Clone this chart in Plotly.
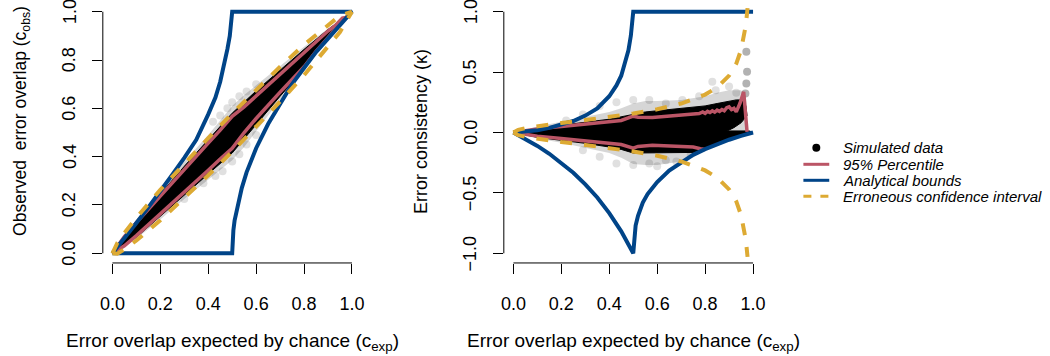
import plotly.graph_objects as go

# ---------------- data ----------------
BLUE, RED, GOLD = "#004488", "#BB5566", "#DDAA33"

# ---- Left panel: c_exp (x) vs c_obs (y) ----
L_bound_x = [0, 0.05, 0.1, 0.15, 0.2, 0.25, 0.3, 0.35, 0.4, 0.43, 0.45, 0.47, 0.48, 0.49, 0.497, 0.5, 1.0,
             0.95, 0.9, 0.85, 0.8, 0.75, 0.7, 0.65, 0.6, 0.56, 0.54, 0.52, 0.51, 0.505, 0.5, 0]
L_bound_y = [0, 0.06, 0.125, 0.19, 0.255, 0.325, 0.395, 0.47, 0.575, 0.645, 0.71, 0.79, 0.845, 0.9, 0.95, 1.0, 1.0,
             0.945, 0.89, 0.833, 0.767, 0.70, 0.618, 0.535, 0.435, 0.335, 0.27, 0.19, 0.135, 0.095, 0, 0]

L_red_up_x = [0, 0.05, 0.1, 0.2, 0.3, 0.4, 0.45, 0.5, 0.55, 0.6, 0.7, 0.8, 0.85, 0.9, 0.93, 0.96, 0.975, 1.0]
L_red_up_y = [0, 0.069, 0.127, 0.238, 0.348, 0.456, 0.51, 0.567, 0.606, 0.651, 0.742, 0.831, 0.877, 0.92, 0.942, 0.973, 0.976, 1.0]
L_red_lo_x = [0, 0.05, 0.1, 0.2, 0.3, 0.4, 0.45, 0.5, 0.55, 0.6, 0.7, 0.75, 0.8, 0.85, 0.9, 0.95, 1.0]
L_red_lo_y = [0, 0.031, 0.073, 0.162, 0.252, 0.344, 0.39, 0.435, 0.50, 0.558, 0.667, 0.72, 0.772, 0.836, 0.894, 0.949, 1.0]

L_gold_x = [0, 0.02, 0.05, 0.1, 0.2, 0.3, 0.4, 0.5, 0.6, 0.7, 0.8, 0.9, 0.95, 1.0]
L_gold_up = [0, 0.042, 0.084, 0.147, 0.263, 0.372, 0.477, 0.579, 0.677, 0.772, 0.863, 0.947, 0.984, 1.0]
L_gold_lo = [0, -0.002, 0.016, 0.053, 0.137, 0.228, 0.323, 0.421, 0.523, 0.628, 0.737, 0.853, 0.916, 1.0]

L_core_x = [0, 0.1, 0.2, 0.3, 0.4, 0.5, 0.6, 0.7, 0.8, 0.9, 0.95, 1.0,
            0.95, 0.9, 0.8, 0.75, 0.7, 0.6, 0.5, 0.4, 0.3, 0.2, 0.1, 0]
L_core_y = [0, 0.13, 0.245, 0.36, 0.47, 0.58, 0.672, 0.76, 0.844, 0.926, 0.963, 1.0,
            0.948, 0.894, 0.772, 0.707, 0.65, 0.532, 0.415, 0.328, 0.24, 0.15, 0.066, 0]

L_halo_x = [0, 0.1, 0.2, 0.3, 0.4, 0.45, 0.5, 0.55, 0.6, 0.7, 0.8, 0.9, 1.0,
            0.9, 0.8, 0.75, 0.7, 0.6, 0.55, 0.5, 0.45, 0.4, 0.3, 0.2, 0.1, 0]
L_halo_y = [0, 0.14, 0.262, 0.38, 0.49, 0.55, 0.61, 0.655, 0.695, 0.775, 0.855, 0.93, 1.0,
            0.894, 0.772, 0.7, 0.635, 0.505, 0.44, 0.385, 0.345, 0.305, 0.225, 0.14, 0.06, 0]

L_pts_x = [0.42, 0.45, 0.48, 0.5, 0.53, 0.56, 0.6, 0.5, 0.53, 0.46, 0.43, 0.56, 0.6, 0.3, 0.38]
L_pts_y = [0.545, 0.57, 0.6, 0.625, 0.65, 0.67, 0.7, 0.38, 0.41, 0.34, 0.32, 0.45, 0.49, 0.225, 0.29]

# ---- Right panel: c_exp (x) vs kappa (y) ----
R_bup_x = [0, 0.05, 0.1, 0.15, 0.2, 0.25, 0.3, 0.35, 0.4, 0.43, 0.45, 0.47, 0.48, 0.49, 0.497, 0.5, 1.0]
R_bup_y = [0, 0.005, 0.018, 0.038, 0.065, 0.095, 0.14, 0.2, 0.3, 0.39, 0.47, 0.6, 0.68, 0.8, 0.92, 1.0, 1.0]
R_blo_x = [0, 0.05, 0.1, 0.15, 0.2, 0.25, 0.3, 0.35, 0.4, 0.45, 0.5, 0.505, 0.51, 0.52, 0.54, 0.56, 0.6,
           0.65, 0.7, 0.75, 0.8, 0.85, 0.9, 0.95, 1.0]
R_blo_y = [0, -0.053, -0.111, -0.176, -0.25, -0.333, -0.429, -0.538, -0.667, -0.818, -1.0, -0.84, -0.77,
           -0.69, -0.58, -0.51, -0.41, -0.315, -0.245, -0.185, -0.138, -0.095, -0.06, -0.028, 0]

R_red_up_x = [0, 0.05, 0.1, 0.2, 0.3, 0.4, 0.45, 0.5, 0.52, 0.58, 0.65, 0.7, 0.75, 0.775, 0.79, 0.8, 0.81,
              0.82, 0.83, 0.84, 0.85, 0.86, 0.87, 0.88, 0.89, 0.9, 0.91, 0.92, 0.93, 0.945, 0.961, 0.975]
R_red_up_y = [0, 0.018, 0.03, 0.05, 0.07, 0.09, 0.1, 0.135, 0.126, 0.124, 0.135, 0.145, 0.152, 0.157, 0.17,
              0.158, 0.175, 0.165, 0.18, 0.168, 0.185, 0.175, 0.19, 0.18, 0.205, 0.212, 0.19, 0.2, 0.171,
              0.24, 0.336, 0.005]
R_red_lo_x = [0, 0.05, 0.1, 0.2, 0.3, 0.4, 0.45, 0.5, 0.52, 0.58, 0.65, 0.7, 0.75, 0.78, 0.8]
R_red_lo_y = [0, -0.018, -0.03, -0.05, -0.07, -0.09, -0.1, -0.13, -0.115, -0.105, -0.11, -0.115, -0.12,
              -0.135, -0.14]

R_gold_x = [0, 0.02, 0.05, 0.1, 0.2, 0.3, 0.4, 0.5, 0.6, 0.7, 0.8, 0.85, 0.9, 0.93, 0.95, 0.96, 0.97, 0.977]
R_gold_up = [0, 0.022, 0.036, 0.052, 0.079, 0.103, 0.128, 0.157, 0.192, 0.24, 0.314, 0.373, 0.471, 0.57,
             0.684, 0.77, 0.89, 1.03]
R_gold_lo = [0, -0.022, -0.036, -0.052, -0.079, -0.103, -0.128, -0.157, -0.192, -0.24, -0.314, -0.373,
             -0.471, -0.57, -0.684, -0.77, -0.89, -1.03]

R_core_x = [0, 0.1, 0.2, 0.3, 0.4, 0.5, 0.55, 0.6, 0.7, 0.8, 0.85, 0.9, 0.93, 0.955, 0.97, 0.975,
            0.95, 0.92, 0.892, 0.985, 1.0,
            0.95, 0.9, 0.85, 0.8, 0.78, 0.75, 0.7, 0.6, 0.55, 0.5, 0.45, 0.4, 0.3, 0.2, 0.1, 0]
R_core_y = [0, 0.035, 0.06, 0.085, 0.11, 0.15, 0.17, 0.18, 0.2, 0.22, 0.24, 0.26, 0.27, 0.27, 0.22, 0.14,
            0.08, 0.04, 0.013, 0.013, 0.0,
            -0.028, -0.06, -0.095, -0.138, -0.16, -0.165, -0.165, -0.17, -0.165, -0.17, -0.14, -0.12,
            -0.09, -0.065, -0.04, 0]

R_halo_x = [0, 0.1, 0.2, 0.3, 0.4, 0.45, 0.5, 0.55, 0.6, 0.7, 0.8, 0.85, 0.9, 0.95, 0.97, 0.975,
            0.975, 0.8, 0.75, 0.7, 0.6, 0.55, 0.5, 0.45, 0.4, 0.3, 0.2, 0.1, 0]
R_halo_y = [0, 0.05, 0.09, 0.13, 0.17, 0.2, 0.24, 0.26, 0.26, 0.27, 0.3, 0.33, 0.35, 0.35, 0.3, 0.15,
            0, -0.14, -0.19, -0.24, -0.27, -0.27, -0.26, -0.21, -0.17, -0.125, -0.085, -0.05, 0]

R_pts_x = [0.22, 0.29, 0.36, 0.43, 0.5, 0.567, 0.636, 0.705, 0.775, 0.83, 0.844, 0.9, 0.93,
           0.36, 0.43, 0.5, 0.567, 0.636, 0.29, 0.6, 0.68, 0.74]
R_pts_y = [0.1, 0.15, 0.22, 0.25, 0.27, 0.27, 0.24, 0.27, 0.3, 0.42, 0.35, 0.38, 0.33,
           -0.2, -0.257, -0.27, -0.257, -0.23, -0.146, -0.28, -0.24, -0.18]
R_out_x = [0.968, 0.972, 0.975, 0.972]
R_out_y = [0.323, 0.406, 0.503, 0.668]

x_ticks = [0, 0.2, 0.4, 0.6, 0.8, 1.0]
x_ticklabels = ["0.0", "0.2", "0.4", "0.6", "0.8", "1.0"]
yL_ticks = [0, 0.2, 0.4, 0.6, 0.8, 1.0]
yL_ticklabels = ["0.0", "0.2", "0.4", "0.6", "0.8", "1.0"]
yR_ticks = [-1.0, -0.5, 0, 0.5, 1.0]
yR_ticklabels = ["\u22121.0", "\u22120.5", "0.0", "0.5", "1.0"]

legend_labels = ["Simulated data", "95% Percentile", "Analytical bounds", "Erroneous confidence interval"]

# ---------------- figure ----------------
W, H = 1050, 356
FONT = "Liberation Sans, Arial, Helvetica, sans-serif"
fig = go.Figure()


def panel(xa, ya, halo_x, halo_y, pts_x, pts_y, core_x, core_y):
    fig.add_trace(go.Scatter(x=halo_x, y=halo_y, xaxis=xa, yaxis=ya, mode="lines", fill="toself",
                             fillcolor="rgba(0,0,0,0.16)", line=dict(width=0), hoverinfo="skip",
                             showlegend=False))
    fig.add_trace(go.Scatter(x=pts_x, y=pts_y, xaxis=xa, yaxis=ya, mode="markers",
                             marker=dict(size=8, color="rgba(0,0,0,0.12)", line=dict(width=0)),
                             hoverinfo="skip", showlegend=False))
    fig.add_trace(go.Scatter(x=core_x, y=core_y, xaxis=xa, yaxis=ya, mode="lines", fill="toself",
                             fillcolor="black", line=dict(width=1, color="black"), hoverinfo="skip",
                             showlegend=False))


panel("x", "y", L_halo_x, L_halo_y, L_pts_x, L_pts_y, L_core_x, L_core_y)
panel("x2", "y2", R_halo_x, R_halo_y, R_pts_x, R_pts_y, R_core_x, R_core_y)
fig.add_trace(go.Scatter(x=R_out_x, y=R_out_y, xaxis="x2", yaxis="y2", mode="markers",
                         marker=dict(size=8, color="rgba(0,0,0,0.3)", line=dict(width=0)),
                         hoverinfo="skip", showlegend=False))

# percentile lines
for xa, ya, xs, ys in [("x", "y", L_red_up_x, L_red_up_y), ("x", "y", L_red_lo_x, L_red_lo_y),
                       ("x2", "y2", R_red_up_x, R_red_up_y), ("x2", "y2", R_red_lo_x, R_red_lo_y)]:
    fig.add_trace(go.Scatter(x=xs, y=ys, xaxis=xa, yaxis=ya, mode="lines",
                             line=dict(color=RED, width=3.5), showlegend=False))

# analytical bounds
fig.add_trace(go.Scatter(x=L_bound_x, y=L_bound_y, xaxis="x", yaxis="y", mode="lines",
                         line=dict(color=BLUE, width=4), showlegend=False))
fig.add_trace(go.Scatter(x=R_bup_x, y=R_bup_y, xaxis="x2", yaxis="y2", mode="lines",
                         line=dict(color=BLUE, width=4), showlegend=False))
fig.add_trace(go.Scatter(x=R_blo_x, y=R_blo_y, xaxis="x2", yaxis="y2", mode="lines",
                         line=dict(color=BLUE, width=4), showlegend=False))

# erroneous CI
for xa, ya, xs, ys in [("x", "y", L_gold_x, L_gold_up), ("x", "y", L_gold_x, L_gold_lo),
                       ("x2", "y2", R_gold_x, R_gold_up), ("x2", "y2", R_gold_x, R_gold_lo)]:
    fig.add_trace(go.Scatter(x=xs, y=ys, xaxis=xa, yaxis=ya, mode="lines",
                             line=dict(color=GOLD, width=4, dash="12px,12px"), showlegend=False))


def px(x):
    return x / W


def py(y):
    return 1 - y / H


TICKFONT = dict(size=18, color="black", family=FONT)
ax_common = dict(showgrid=False, zeroline=False, showline=False, ticks="outside", ticklen=10,
                 tickwidth=1, tickcolor="black", tickfont=TICKFONT, fixedrange=True)
ydom = [py(262.96), py(2.04)]
fig.update_layout(
    width=W, height=H, margin=dict(l=0, r=0, t=0, b=0), paper_bgcolor="white", plot_bgcolor="white",
    font=dict(family=FONT, color="black"),
    xaxis=dict(domain=[px(100.4), px(360.6)], range=[-0.04, 1.04], anchor="y",
               tickvals=x_ticks, ticktext=x_ticklabels, ticklabelstandoff=14,
               ticklabeloverflow="allow", **ax_common),
    yaxis=dict(domain=ydom, range=[-0.04, 1.04], anchor="x", showticklabels=False,
               tickvals=yL_ticks, **ax_common),
    xaxis2=dict(domain=[px(503.7), px(764.0)], range=[-0.04, 1.04], anchor="y2",
                tickvals=x_ticks, ticktext=x_ticklabels, ticklabelstandoff=14,
                ticklabeloverflow="allow", **ax_common),
    yaxis2=dict(domain=ydom, range=[-1.08, 1.08], anchor="x2", showticklabels=False,
                tickvals=yR_ticks, **ax_common),
    showlegend=False,
)

# rotated y tick labels (R style, parallel to the axis)
for xd, ya, vals, labs in [("x domain", "y", yL_ticks, yL_ticklabels),
                           ("x2 domain", "y2", yR_ticks, yR_ticklabels)]:
    for v, lab in zip(vals, labs):
        fig.add_annotation(text=lab, xref=xd, yref=ya, x=0, y=v, xshift=-33.5, showarrow=False,
                           textangle=-90, xanchor="center", yanchor="middle", font=TICKFONT)

# R-style axis lines spanning only first..last tick
shapes = [
    dict(type="line", xref="x", yref="y domain", x0=x_ticks[0], x1=x_ticks[-1], y0=0, y1=0),
    dict(type="line", xref="x domain", yref="y", x0=0, x1=0, y0=yL_ticks[0], y1=yL_ticks[-1]),
    dict(type="line", xref="x2", yref="y2 domain", x0=x_ticks[0], x1=x_ticks[-1], y0=0, y1=0),
    dict(type="line", xref="x2 domain", yref="y2", x0=0, x1=0, y0=yR_ticks[0], y1=yR_ticks[-1]),
]
for s in shapes:
    s["line"] = dict(color="black", width=1)
    fig.add_shape(**s)

# axis titles
fig.add_annotation(text="Error overlap expected by chance (c<sub>exp</sub>)", xref="paper", yref="paper",
                   x=px(230.5), y=py(342), showarrow=False, font=dict(size=19), xanchor="center",
                   yanchor="middle")
fig.add_annotation(text="Error overlap expected by chance (c<sub>exp</sub>)", xref="paper", yref="paper",
                   x=px(633.8), y=py(342), showarrow=False, font=dict(size=19), xanchor="center",
                   yanchor="middle")
fig.add_annotation(text="Observed\u00a0 error overlap (c<sub>obs</sub>)", xref="paper", yref="paper",
                   x=px(18), y=py(121), showarrow=False, font=dict(size=17.5), textangle=-90,
                   xanchor="center", yanchor="middle")
fig.add_annotation(text="Error consistency (\u03ba)", xref="paper", yref="paper",
                   x=px(420), y=py(131.5), showarrow=False, font=dict(size=18), textangle=-90,
                   xanchor="center", yanchor="middle")

# legend (manual, R-style compact)
leg_y = [147.7, 164.3, 180.3, 196.3]
fig.add_shape(type="circle", xref="paper", yref="paper", x0=px(814), x1=px(822),
              y0=py(leg_y[0] + 4), y1=py(leg_y[0] - 4), fillcolor="black", line=dict(width=0))
for yy, col, dash in [(leg_y[1], RED, "solid"), (leg_y[2], BLUE, "solid"), (leg_y[3], GOLD, "8px,9px")]:
    fig.add_shape(type="line", xref="paper", yref="paper", x0=px(805), x1=px(831), y0=py(yy), y1=py(yy),
                  line=dict(color=col, width=3, dash=dash))
for yy, lab in zip(leg_y, legend_labels):
    fig.add_annotation(text="<i>" + lab + "</i>", xref="paper", yref="paper", x=px(843), y=py(yy),
                       showarrow=False, xanchor="left", yanchor="middle", font=dict(size=15))

fig.write_html("out.html", config={"displayModeBar": False},
               post_script="document.body.style.margin='0';")
